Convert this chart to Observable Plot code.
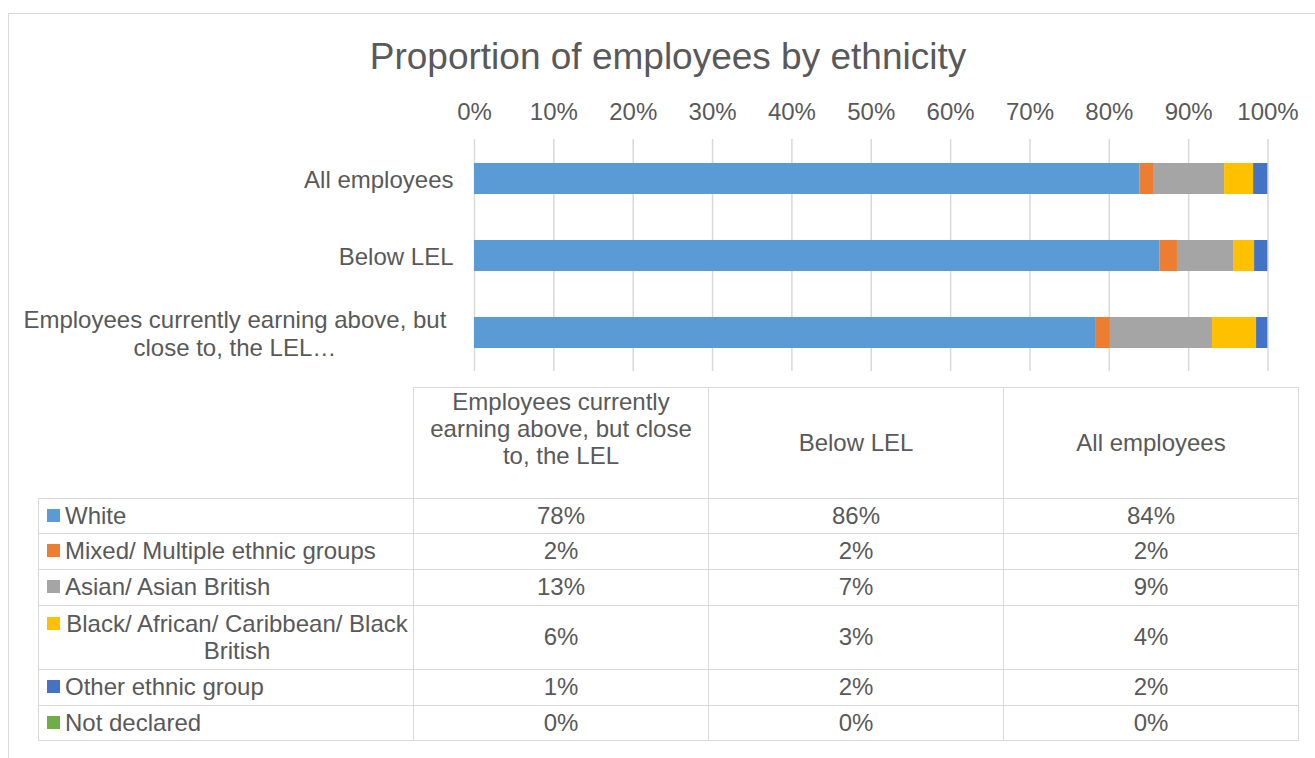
<!DOCTYPE html>
<html><head><meta charset="utf-8">
<script src="https://cdn.jsdelivr.net/npm/d3@7"></script>
<script src="https://cdn.jsdelivr.net/npm/@observablehq/plot@0.6"></script>
<style>
body{margin:0;background:#fff;width:1315px;height:758px;overflow:hidden;position:relative;font-family:"Liberation Sans",Arial,sans-serif;color:#595959;}
#frame{position:absolute;left:8px;top:13px;width:1400px;height:900px;border:1.5px solid #d9d9d9;box-sizing:border-box;}
#title{position:absolute;left:10px;width:1316px;top:36px;text-align:center;font-size:37px;line-height:42px;white-space:nowrap;}
#chart{position:absolute;left:0;top:95px;}
#tbl{position:absolute;left:38px;top:387px;border-collapse:collapse;font-size:24px;line-height:27px;table-layout:fixed;color:#595959;}
#tbl td{border:1.5px solid #d9d9d9;padding:0 0 2px 0;text-align:center;vertical-align:middle;}
#tbl td.blank{border-top:none;border-left:none;}
#tbl td.leg{text-align:left;padding-left:8px;}
.legwrap{display:flex;align-items:flex-start;}
.sw{width:13px;height:13px;margin-top:7px;margin-right:5px;flex:none;}
.lab{display:inline-block;text-align:center;max-width:344px;flex:none;}
</style>
</head><body>
<div id="frame"></div>
<div id="title">Proportion of employees by ethnicity</div>
<div id="chart"></div>
<table id="tbl"></table>
<script>
// ---- data ----
const categories = ["All employees", "Below LEL", "Employees currently earning above, but close to, the LEL"];
const axisLabels = ["All employees", "Below LEL", "Employees currently earning above, but\nclose to, the LEL…"];
const tableColumns = ["Employees currently earning above, but close to, the LEL", "Below LEL", "All employees"];
const ethnicities = ["White", "Mixed/ Multiple ethnic groups", "Asian/ Asian British", "Black/ African/ Caribbean/ Black British", "Other ethnic group", "Not declared"];
const colors = ["#5B9BD5", "#ED7D31", "#A5A5A5", "#FFC000", "#4472C4", "#70AD47"];
const allEmployees = [83.84, 1.73, 8.96, 3.66, 1.76, 0.05];
const belowLEL     = [86.36, 2.23, 7.07, 2.65, 1.64, 0.05];
const aboveLEL     = [78.37, 1.77, 12.86, 5.56, 1.39, 0.05];
const xTicks = [0, 10, 20, 30, 40, 50, 60, 70, 80, 90, 100];

const seriesByCategory = {
  [categories[0]]: allEmployees,
  [categories[1]]: belowLEL,
  [categories[2]]: aboveLEL
};
const rows = categories.flatMap(c => ethnicities.map((e, i) => ({category: c, ethnicity: e, value: seriesByCategory[c][i]})));

const chart = Plot.plot({
  width: 1315,
  height: 281,
  marginTop: 44,
  marginBottom: 5,
  marginLeft: 474,
  marginRight: 47.5,
  style: {fontFamily: '"Liberation Sans", Arial, sans-serif', fontSize: "24px", color: "#595959", background: "transparent"},
  x: {domain: [0, 100], axis: null},
  y: {domain: categories, paddingInner: 0.6, paddingOuter: 0.3, axis: null},
  color: {domain: ethnicities, range: colors},
  marks: [
    Plot.gridX(xTicks, {stroke: "#d9d9d9", strokeOpacity: 1, strokeWidth: 1.5}),
    Plot.axisX(xTicks, {anchor: "top", label: null, tickSize: 0, tickPadding: 20, tickFormat: d => d + "%", fontSize: 24, fill: "#595959"}),
    Plot.axisY({label: null, tickSize: 0, tickPadding: 21, tickFormat: d => axisLabels[categories.indexOf(d)], fontSize: 24, fill: "#595959", lineHeight: 1.17}),
    Plot.barX(rows, Plot.stackX({x: "value", y: "category", fill: "ethnicity", order: ethnicities}))
  ]
});
document.getElementById("chart").appendChild(chart);

// centre the lines of the wrapped category label as a block
chart.querySelectorAll("g[aria-label='y-axis tick label'] text").forEach(t => {
  if (t.querySelectorAll("tspan").length > 1) {
    const w = t.getBBox().width;
    t.setAttribute("text-anchor", "middle");
    t.setAttribute("transform", (t.getAttribute("transform") || "") + ` translate(${-7 - w / 2},0)`);
  }
});

// ---- data table ----
const tbl = document.getElementById("tbl");
const colgroup = document.createElement("colgroup");
[375, 295, 295, 295].forEach(w => { const c = document.createElement("col"); c.style.width = w + "px"; colgroup.appendChild(c); });
tbl.appendChild(colgroup);
const head = document.createElement("tr");
head.style.height = "109px";
const blank = document.createElement("td"); blank.className = "blank"; head.appendChild(blank);
tableColumns.forEach((c, i) => {
  const td = document.createElement("td");
  td.style.padding = i === 0 ? "0 10px 29px 10px" : "0 10px 2px 10px";
  td.textContent = c;
  head.appendChild(td);
});
tbl.appendChild(head);
const rowHeights = [35, 36, 36, 64, 36, 35];
ethnicities.forEach((e, i) => {
  const tr = document.createElement("tr");
  tr.style.height = rowHeights[i] + "px";
  const leg = document.createElement("td");
  leg.className = "leg";
  leg.innerHTML = `<div class="legwrap"><span class="sw" style="background:${colors[i]}"></span><span class="lab">${e}</span></div>`;
  tr.appendChild(leg);
  tableColumns.forEach(c => {
    const td = document.createElement("td");
    td.textContent = Math.round(seriesByCategory[c][i]) + "%";
    tr.appendChild(td);
  });
  tbl.appendChild(tr);
});
</script>
</body></html>
